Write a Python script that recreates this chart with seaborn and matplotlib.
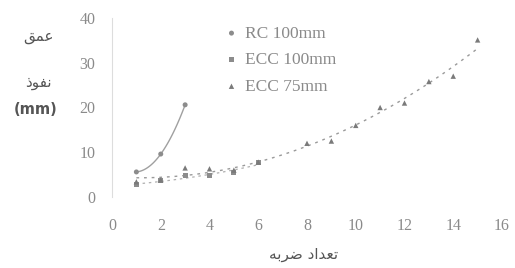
import numpy as np
import pandas as pd
import matplotlib
matplotlib.use("Agg")
import matplotlib.pyplot as plt
import seaborn as sns

# ---- data ----
rc_x = [1, 2, 3]
rc_y = [5.6, 9.6, 20.6]

ecc100_x = [1, 2, 3, 4, 5, 6]
ecc100_y = [2.7, 3.6, 4.7, 4.9, 5.4, 7.6]

ecc75_x = [1, 2, 3, 4, 5, 6, 8, 9, 10, 11, 12, 13, 14, 15]
ecc75_y = [3.4, 3.8, 6.5, 6.3, 6.0, 7.8, 12.0, 12.5, 16.0, 20.0, 21.0, 25.8, 27.0, 35.1]

series_names = ["RC 100mm", "ECC 100mm", "ECC 75mm"]
x_ticks = [0, 2, 4, 6, 8, 10, 12, 14, 16]
y_ticks = [0, 10, 20, 30, 40]

# Persian labels (Arabic presentation forms, visual order for LTR renderer)
ylabel_lines = ["\uFED6\uFEE4\uFECB",            # عمق
                "\uFEAB\uFEEE\uFED4\uFEE7",      # نفوذ
                "(mm)"]
xlabel = "\uFEEA\uFE91\uFEAE\uFEBF \uFEA9\uFE8D\uFEAA\uFECC\uFE97"  # تعداد ضربه

sns.set_theme(style="white")
plt.rcParams["font.family"] = ["Liberation Serif", "DejaVu Serif"]

fig = plt.figure(figsize=(5.15, 2.68), dpi=100)
ax = fig.add_axes([112 / 515, 1 - 197 / 268, 390 / 515, 179 / 268])

mk_col = "#8c8c8c"
line_col = "#a0a0a0"

# trend lines
def trend(xs, ys, deg, x0, x1):
    c = np.polyfit(xs, ys, deg)
    xx = np.linspace(x0, x1, 100)
    return pd.DataFrame({"x": xx, "y": np.polyval(c, xx)})

t_rc = trend(rc_x, rc_y, 2, 1, 3)
t_100 = trend(ecc100_x, ecc100_y, 2, 1, 6)
t_75 = trend(ecc75_x, ecc75_y, 2, 1, 15)

sns.lineplot(data=t_rc, x="x", y="y", ax=ax, color=line_col, lw=1.0, legend=False)
sns.lineplot(data=t_100, x="x", y="y", ax=ax, color="#b0b0b0", lw=0.9,
             linestyle=(0, (2, 3)), legend=False)
sns.lineplot(data=t_75, x="x", y="y", ax=ax, color="#9a9a9a", lw=1.0,
             linestyle=(0, (2, 3.5)), legend=False)

df_rc = pd.DataFrame({"x": rc_x, "y": rc_y})
df_100 = pd.DataFrame({"x": ecc100_x, "y": ecc100_y})
df_75 = pd.DataFrame({"x": ecc75_x, "y": ecc75_y})

sns.scatterplot(data=df_rc, x="x", y="y", ax=ax, marker="o", s=13,
                color=mk_col, edgecolor="none", label=series_names[0], zorder=3)
sns.scatterplot(data=df_100, x="x", y="y", ax=ax, marker="s", s=13,
                color=mk_col, edgecolor="none", label=series_names[1], zorder=3)
sns.scatterplot(data=df_75, x="x", y="y", ax=ax, marker="^", s=15,
                color="#7a7a7a", edgecolor="none", label=series_names[2], zorder=3)

ax.set_xlim(0, 16)
ax.set_ylim(0, 40)
ax.set_xticks(x_ticks)
ax.set_yticks(y_ticks)
ax.set_xlabel("")
ax.set_ylabel("")

tick_col = "#8a8a8a"
ax.tick_params(axis="x", length=0, pad=15, labelsize=11.5, labelcolor=tick_col)
ax.tick_params(axis="y", length=0, pad=12, labelsize=11.5, labelcolor=tick_col)

for s in ["top", "right", "bottom"]:
    ax.spines[s].set_visible(False)
ax.spines["left"].set_color("#dddddd")
ax.spines["left"].set_linewidth(0.8)

leg = ax.legend(loc="upper left", bbox_to_anchor=(0.293, 0.958), frameon=False,
                fontsize=12.5, handlelength=0.6, handletextpad=0.5,
                labelspacing=0.6, borderpad=0, borderaxespad=0)
for t in leg.get_texts():
    t.set_color("#8a8a8a")

# axis titles
title_col = "#555555"
fig.text(38 / 515, 1 - 37 / 268, ylabel_lines[0], ha="center", va="center",
         fontsize=11, color=title_col, family=["DejaVu Sans"])
fig.text(38 / 515, 1 - 83 / 268, ylabel_lines[1], ha="center", va="center",
         fontsize=11, color=title_col, family=["DejaVu Sans"])
fig.text(36 / 515, 1 - 110 / 268, ylabel_lines[2], ha="center", va="center",
         fontsize=10.5, color=title_col, family=["DejaVu Sans"], fontweight="bold")
fig.text(304 / 515, 1 - 255 / 268, xlabel, ha="center", va="center",
         fontsize=11, color=title_col, family=["DejaVu Sans"])

fig.savefig("out.png", dpi=100, facecolor="white")
